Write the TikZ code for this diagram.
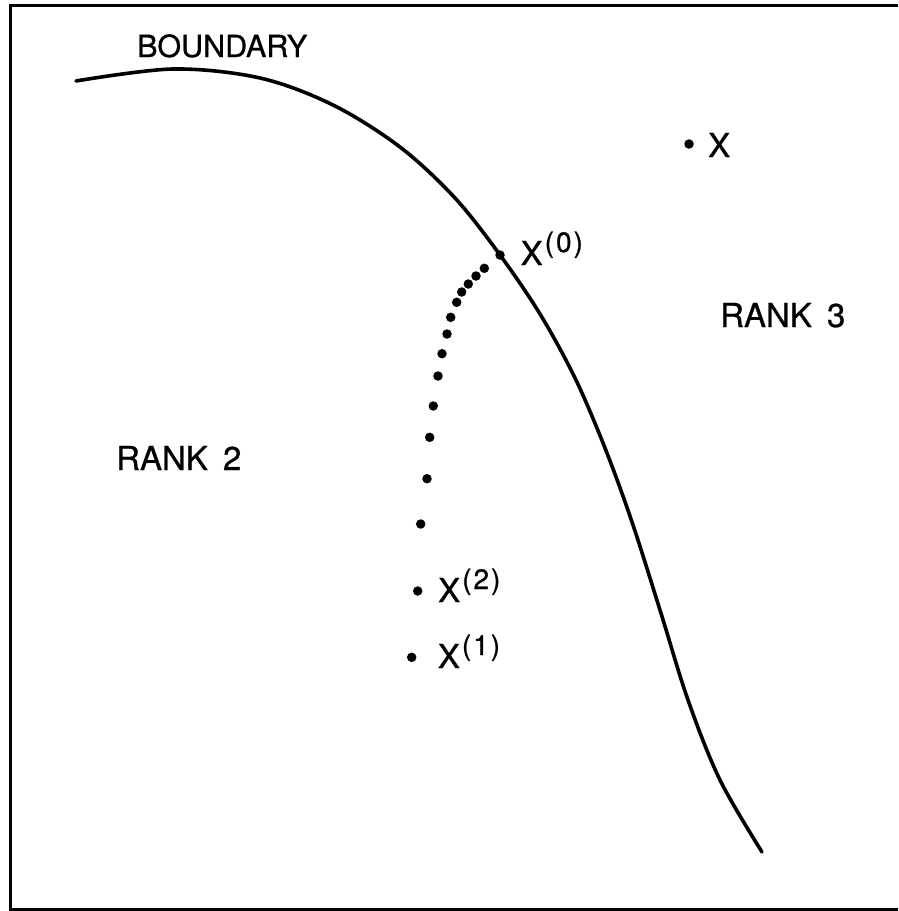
\documentclass[tikz,border=0pt]{standalone}
\usepackage{fontspec}
\setmainfont[FakeBold=0.8]{TeX Gyre Heros}
\begin{document}
\begin{tikzpicture}[x=1pt,y=-1pt,
  pt/.style={circle,fill=black,inner sep=0pt,minimum size=9.5pt},
  lab/.style={anchor=base west,inner sep=0pt,font=\fontsize{33}{38}\selectfont},
  frame/.style={line width=3pt},
  bound/.style={line width=3.6pt,line cap=round}]
\useasboundingbox (0,0) rectangle (898,911);
\newcommand{\supx}[1]{X\hspace{2pt}\raisebox{13pt}{\fontsize{28}{32}\selectfont(\hspace{2pt}#1\hspace{2pt})}}
% frame (right side cut off)
\draw[frame] (898,5) -- (10,5) -- (10,909) -- (898,909);
% boundary curve
\draw[bound] plot[smooth,tension=0.55] coordinates {(76,81) (173,69) (260,78) (333,105) (400,147) (455,198) (500,255) (540,314) (575,378) (605,448) (632,522) (660,610) (688,700) (720,780) (762,852)};
% points
\node[pt] (x0) at (500,255) {};
\node[pt] (x)  at (689,144) {};
\node[pt] (x2) at (417.7,591) {};
\node[pt] (x1) at (411.7,657.3) {};
\foreach \i/\px/\py in {1/484.3/268.3,2/476/276,3/468.3/284,4/461.7/292,5/456.7/302.3,6/450.7/317.3,7/447/334,8/442/353.7,9/438/376,10/433.3/406,11/429.7/437.3,12/427/478.7,13/420.7/524}
  \node[pt] (d\i) at (\px,\py) {};
% labels
\node[lab,font=\fontsize{30.5}{36}\selectfont] (tb) at (137,57) {BOUNDARY};
\node[lab] (tx) at (708,157) {X};
\node[lab] (tx0) at (520.5,265) {\supx{0}};
\node[lab] (tx2) at (438,602) {\supx{2}};
\node[lab] (tx1) at (437.7,668) {\supx{1}};
\node[lab] (tr3) at (720,327) {RANK\hspace{6pt} 3};
\node[lab] (tr2) at (116,470) {RANK\hspace{6pt} 2};
\end{tikzpicture}
\end{document}
